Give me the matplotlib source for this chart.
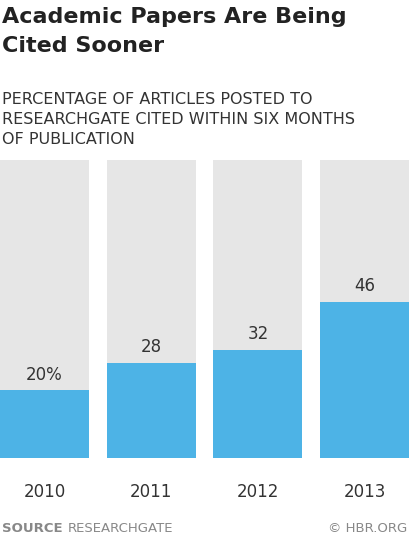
import matplotlib.pyplot as plt

years = ["2010", "2011", "2012", "2013"]
values = [20, 28, 32, 46]
labels = ["20%", "28", "32", "46"]

fig = plt.figure(figsize=(4.09, 5.40), dpi=100)
ax = fig.add_axes([0, 1 - 458 / 540, 1, (458 - 160) / 540])

top = 88
w = 0.834
x = range(len(years))
ax.bar(x, [top] * len(years), width=w, color="#e6e6e6")
ax.bar(x, values, width=w, color="#4db3e6")
for i, v in enumerate(values):
    ax.text(i, v + 2, labels[i], ha="center", va="bottom", fontsize=12, color="#333333")
ax.set_xlim(-w / 2, len(years) - 1 + w / 2)
ax.set_ylim(0, top)
ax.axis("off")

for i, y in enumerate(years):
    fig.text((i * 1.0 + w / 2) / (len(years) - 1 + w), 1 - 492 / 540, y,
             ha="center", va="center", fontsize=12, color="#333333")

fig.text(0.005, 1 - 17 / 540, "Academic Papers Are Being", fontsize=16, fontweight="bold",
         color="#222222", va="center")
fig.text(0.005, 1 - 46 / 540, "Cited Sooner", fontsize=16, fontweight="bold",
         color="#222222", va="center")
for j, line in enumerate(["PERCENTAGE OF ARTICLES POSTED TO",
                          "RESEARCHGATE CITED WITHIN SIX MONTHS",
                          "OF PUBLICATION"]):
    fig.text(0.005, 1 - (100 + j * 20) / 540, line, fontsize=11.5, color="#333333", va="center")

fig.text(0.005, 1 - 528 / 540, "SOURCE", fontsize=9.5, fontweight="bold", color="#888888", va="center")
fig.text(0.165, 1 - 528 / 540, "RESEARCHGATE", fontsize=9.5, color="#888888", va="center")
fig.text(0.995, 1 - 528 / 540, "© HBR.ORG", fontsize=9.5, color="#888888", va="center", ha="right")

fig.savefig("out.png", dpi=100)
